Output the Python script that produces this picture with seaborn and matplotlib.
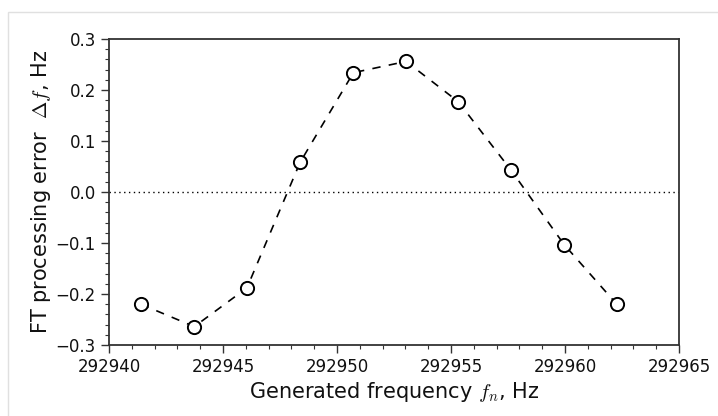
import matplotlib
matplotlib.use("Agg")
import matplotlib.pyplot as plt
from matplotlib.patches import Rectangle
from matplotlib.ticker import MultipleLocator
import seaborn as sns
import pandas as pd

freq = [292941.40, 292943.74, 292946.05, 292948.38, 292950.72,
        292953.03, 292955.32, 292957.63, 292959.96, 292962.27]
err = [-0.220, -0.264, -0.188, 0.058, 0.234, 0.256, 0.177, 0.043, -0.103, -0.220]

sns.set_theme(style="ticks")
plt.rcParams['font.family'] = ['DejaVu Sans']
plt.rcParams['mathtext.fontset'] = 'cm'
plt.rcParams['text.color'] = '#111111'
plt.rcParams['axes.labelcolor'] = '#111111'
plt.rcParams['xtick.labelcolor'] = '#111111'
plt.rcParams['ytick.labelcolor'] = '#111111'

df = pd.DataFrame({"freq": freq, "err": err})

fig = plt.figure(figsize=(7.18, 4.16), dpi=100)
ax = fig.add_axes([109/718, 1-345/416, (679-109)/718, (345-39)/416])

# light frame around figure
fig.patches.append(Rectangle((8/718, -0.1), 1.2, 1 - 12/416 + 0.1, transform=fig.transFigure,
                             fill=False, edgecolor='#e0e0e0', linewidth=1.0))

ax.axhline(0, color='black', linestyle=(0, (1, 2.5)), linewidth=1.0)
sns.lineplot(data=df, x="freq", y="err", ax=ax, color='black', linestyle='--',
             linewidth=1.2, marker='o', markersize=9.5, markerfacecolor='white',
             markeredgecolor='black', markeredgewidth=1.4, dashes=False)
ax.lines[-1].set_linestyle((0, (5, 5)))

ax.set_xlim(292940, 292965)
ax.set_ylim(-0.3, 0.3)
ax.xaxis.set_major_locator(MultipleLocator(5))
ax.xaxis.set_minor_locator(MultipleLocator(1))
ax.yaxis.set_major_locator(MultipleLocator(0.1))
ax.yaxis.set_minor_locator(MultipleLocator(0.02))
ax.ticklabel_format(useOffset=False, style='plain', axis='x')
ax.set_yticks([-0.3, -0.2, -0.1, 0.0, 0.1, 0.2, 0.3])
ax.set_yticklabels(['\u22120.3', '\u22120.2', '\u22120.1', '0.0', '0.1', '0.2', '0.3'])

for s in ax.spines.values():
    s.set_color('#333333')
    s.set_linewidth(1.3)
ax.tick_params(which='major', direction='out', length=6, width=1.0, color='#333333',
               labelsize=12, top=False, right=False)
ax.tick_params(which='minor', direction='out', length=3, width=0.8, color='#333333',
               top=False, right=False)

ax.set_xlabel(r"Generated frequency $f_n$, Hz", fontsize=15, labelpad=3)
ax.set_ylabel(r"FT processing error  $\Delta f$, Hz", fontsize=15, labelpad=2)

fig.savefig("out.png", dpi=100)
